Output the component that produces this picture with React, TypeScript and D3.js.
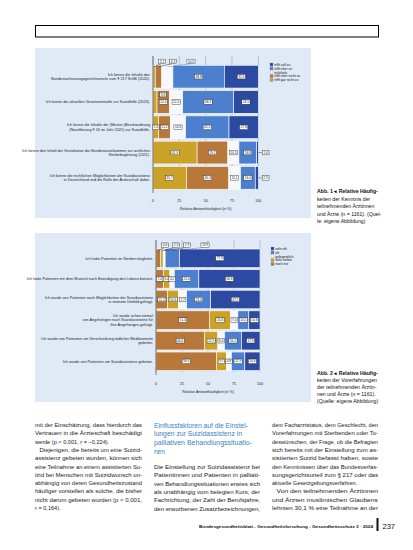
import React from "react";
import * as d3 from "d3";

// ---------- DATA ----------
const fig1Categories = [
  "Ich kenne die Inhalte des\nBundesverfassungsgerichtsurteils zum § 217 StGB (2020).",
  "Ich kenne die aktuellen Gesetzentwürfe zur Suizidhilfe (2023).",
  "Ich kenne die Inhalte der (Muster-)Berufsordnung\n(Novellierung § 16 im Jahr 2021) zur Suizidhilfe.",
  "Ich kenne den Inhalt der Grundsätze der Bundesärztekammer zur ärztlichen\nSterbebegleitung (2011).",
  "Ich kenne die rechtlichen Möglichkeiten der Suizidassistenz\nin Deutschland und die Rolle der Ärzteschaft dabei.",
];
const fig1Series = ["trifft voll zu", "trifft eher zu", "teils/teils", "trifft eher nicht zu", "trifft gar nicht zu"];
const fig1Voll = [32.3, 23.5, 27.8, 1.6, 2.9];
const fig1Eher = [48.8, 48.3, 41.3, 16.8, 14.0];
const fig1Teils = [10.5, 12.4, 14.3, 10.5, 11.1];
const fig1EherNicht = [6.3, 12.0, 11.2, 29.2, 40.3];
const fig1GarNicht = [2.1, 3.8, 5.4, 41.9, 31.7];

const fig2Categories = [
  "Ich habe Patienten im Sterben begleitet.",
  "Ich habe Patienten mit dem Wunsch nach Beendigung des Lebens betreut.",
  "Ich wurde von Patienten nach Möglichkeiten der Suizidassistenz\nin meinem Umfeld gefragt.",
  "Ich wurde schon einmal\nvon Angehörigen nach Suizidassistenz für\nihre Angehörigen gefragt.",
  "Ich wurde von Patienten um Verschreibung tödlicher Medikamente\ngebeten.",
  "Ich wurde von Patienten um Suizidassistenz gebeten.",
];
const fig2Series = ["sehr oft", "oft", "gelegentlich", "sehr selten", "noch nie"];
const fig2SehrOft = [77.3, 58.8, 47.5, 10.8, 17.9, 14.6];
const fig2Oft = [13.9, 23.6, 23.0, 10.5, 16.2, 12.9];
const fig2Gelegentlich = [1.9, 4.2, 7.7, 7.0, 6.4, 4.8];
const fig2Selten = [2.3, 6.4, 10.6, 20.3, 12.9, 9.7];
const fig2Nie = [4.6, 7.0, 11.2, 51.4, 46.6, 58.0];

const xTicks = [0, 25, 50, 75, 100];
const axisTitle = "Relative Antworthäufigkeit (in %)";

// ---------- STYLE ----------
const DARK = "#2d4aa3";
const MID = "#4c80cf";
const WHITE = "#f6f8fc";
const BROWN = "#b8783a";
const GOLD = "#c9a227";
const PANEL = "#dfeaf6";
const FONT = "'Liberation Sans', Arial, sans-serif";

const fig1Colors: Record<string, string> = {
  [fig1Series[0]]: DARK, [fig1Series[1]]: MID, [fig1Series[2]]: WHITE, [fig1Series[3]]: BROWN, [fig1Series[4]]: GOLD,
};
const fig2Colors: Record<string, string> = {
  [fig2Series[0]]: DARK, [fig2Series[1]]: MID, [fig2Series[2]]: WHITE, [fig2Series[3]]: GOLD, [fig2Series[4]]: BROWN,
};

const fig1Rows = fig1Categories.map((c, i) => ({
  cat: c,
  [fig1Series[4]]: fig1GarNicht[i],
  [fig1Series[3]]: fig1EherNicht[i],
  [fig1Series[2]]: fig1Teils[i],
  [fig1Series[1]]: fig1Eher[i],
  [fig1Series[0]]: fig1Voll[i],
}));
const fig2Rows = fig2Categories.map((c, i) => ({
  cat: c,
  [fig2Series[4]]: fig2Nie[i],
  [fig2Series[3]]: fig2Selten[i],
  [fig2Series[2]]: fig2Gelegentlich[i],
  [fig2Series[1]]: fig2Oft[i],
  [fig2Series[0]]: fig2SehrOft[i],
}));

const fmt = (v: number) => v.toFixed(1).replace(".", ",");

type ChartProps = {
  categories: string[];
  series: string[]; // legend order, top -> bottom
  rows: any[];
  colors: Record<string, string>;
  panel: { x: number; y: number; w: number; h: number };
  xRange: [number, number];
  yRange: [number, number];
  gridTop: number;
  gridBottom: number;
  tickY: number;
  titleY: number;
  legendX: number;
  legendY: number;
};

function LabelBox({ x, y, text }: { x: number; y: number; text: string }) {
  const w = text.length * 1.7 + 1.4;
  return (
    <g>
      <rect x={x - w / 2} y={y - 2.3} width={w} height={4.6} fill="#fff" stroke="#222" strokeWidth={0.4} />
      <text x={x} y={y + 1.15} fontSize={3.2} textAnchor="middle" fill="#111" fontFamily={FONT}>
        {text}
      </text>
    </g>
  );
}

function StackedChart(p: ChartProps) {
  const keys = [...p.series].reverse(); // left -> right
  const stacked = d3.stack<any>().keys(keys)(p.rows);
  const x = d3.scaleLinear().domain([0, 100]).range(p.xRange);
  const y = d3
    .scaleBand<string>()
    .domain(p.categories)
    .range(p.yRange)
    .paddingInner(0.1)
    .paddingOuter(0.05);
  const bw = y.bandwidth();

  const labels: React.ReactNode[] = [];
  p.categories.forEach((cat, i) => {
    const top = y(cat)!;
    const cy = top + bw / 2;
    let k = 0;
    const callouts: { lx: number; cx: number; v: number }[] = [];
    stacked.forEach((layer, j) => {
      const d = layer[i];
      const x0 = x(d[0]);
      const x1 = x(d[1]);
      const w = x1 - x0;
      const v = d[1] - d[0];
      const cx = (x0 + x1) / 2;
      if (i === 0 && v < 15) {
        callouts.push({ lx: p.xRange[0] + 9 + k * 11, cx, v });
        k++;
      } else if (w < 5 && j === keys.length - 1) {
        const lx = p.xRange[1] + 7.5;
        labels.push(
          <g key={`o${i}-${j}`}>
            <line x1={x1} y1={cy} x2={lx - 3.5} y2={cy} stroke="#222" strokeWidth={0.4} />
            <LabelBox x={lx} y={cy} text={fmt(v)} />
          </g>
        );
      } else if (w < 5 && j === 0) {
        labels.push(<LabelBox key={`f${i}-${j}`} x={cx + 8} y={top + 4} text={fmt(v)} />);
      } else {
        labels.push(<LabelBox key={`l${i}-${j}`} x={cx} y={cy} text={fmt(v)} />);
      }
    });
    callouts.forEach((c, n) => {
      const last = n === callouts.length - 1 && callouts.length > 1;
      const lx = c.lx + (last ? 7 : 0);
      const ly = top - 3.8;
      labels.push(
        <g key={`c${i}-${n}`}>
          <line
            x1={lx - 1}
            y1={ly + 2.3}
            x2={c.cx}
            y2={top + 1.5}
            stroke="#1a2b55"
            strokeWidth={0.5}
            strokeDasharray={last ? "0.8,0.6" : undefined}
          />
          <LabelBox x={lx} y={ly} text={fmt(c.v)} />
        </g>
      );
    });
  });

  return (
    <g>
      <rect x={p.panel.x} y={p.panel.y} width={p.panel.w} height={p.panel.h} fill={PANEL} />
      {xTicks.map((t) => (
        <line key={t} x1={x(t)} x2={x(t)} y1={p.gridTop} y2={p.gridBottom} stroke="#8b95a5" strokeWidth={0.5} />
      ))}
      {stacked.map((layer) => (
        <g key={layer.key}>
          {layer.map((d, i) => (
            <rect
              key={i}
              x={x(d[0])}
              y={y(p.categories[i])!}
              width={x(d[1]) - x(d[0])}
              height={bw}
              fill={p.colors[layer.key]}
              stroke="#fff"
              strokeWidth={0.6}
            />
          ))}
        </g>
      ))}
      <line x1={x(0)} x2={x(0)} y1={p.gridTop} y2={p.gridBottom + 3} stroke="#333" strokeWidth={0.6} />
      {labels}
      {p.categories.map((cat) => {
        const lines = cat.split("\n");
        const cy = y(cat)! + bw / 2;
        const lh = 4.6;
        const start = cy - ((lines.length - 1) * lh) / 2 + 1.3;
        return (
          <text key={cat} fontSize={3.8} fill="#222" fontFamily={FONT} textAnchor="end">
            {lines.map((l, n) => (
              <tspan key={n} x={x(0) - 3} y={start + n * lh}>
                {l}
              </tspan>
            ))}
          </text>
        );
      })}
      {xTicks.map((t) => (
        <text key={t} x={x(t)} y={p.tickY} fontSize={3.6} textAnchor="middle" fill="#222" fontFamily={FONT}>
          {t}
        </text>
      ))}
      <text
        x={(p.xRange[0] + p.xRange[1]) / 2}
        y={p.titleY}
        fontSize={3.6}
        textAnchor="middle"
        fill="#222"
        fontFamily={FONT}
      >
        {axisTitle}
      </text>
      {p.series.map((s, n) => (
        <g key={s}>
          <rect
            x={p.legendX}
            y={p.legendY + n * 3.9}
            width={3}
            height={3}
            fill={p.colors[s]}
            stroke="#667"
            strokeWidth={0.2}
          />
          <text x={p.legendX + 4.3} y={p.legendY + n * 3.9 + 2.7} fontSize={3.4} fill="#111" fontFamily={FONT}>
            {s}
          </text>
        </g>
      ))}
    </g>
  );
}

// ---------- PAGE TEXT ----------
const cap1 = ["Abb. 1 ◂ Relative Häufig-", "keiten der Kenntnis der", "teilnehmenden Ärztinnen", "und Ärzte (n = 1161). (Quel-", "le: eigene Abbildung)"];
const cap2 = ["Abb. 2 ◂ Relative Häufig-", "keiten der Vorerfahrungen", "der teilnehmenden Ärztin-", "nen und Ärzte (n = 1161).", "(Quelle: eigene Abbildung)"];

const col1: [string, boolean, boolean][] = [
  ["mit der Einschätzung, dass hierdurch das", true, false],
  ["Vertrauen in die Ärzteschaft beschädigt", true, false],
  ["werde (p < 0,001, r = −0,224).", false, false],
  ["Diejenigen, die bereits um eine Suizid-", true, true],
  ["assistenz gebeten wurden, können sich", true, false],
  ["eine Teilnahme an einem assistierten Su-", true, false],
  ["izid bei Menschen mit Suizidwunsch un-", true, false],
  ["abhängig von deren Gesundheitszustand", true, false],
  ["häufiger vorstellen als solche, die bisher", true, false],
  ["nicht darum gebeten wurden (p < 0,001,", true, false],
  ["r = 0,164).", false, false],
];
const col2Head = ["Einflussfaktoren auf die Einstel-", "lungen zur Suizidassistenz in", "palliativen Behandlungssituatio-", "nen"];
const col2HeadW = [94, 88, 98, 0];
const col2: string[] = [
  "Die Einstellung zur Suizidassistenz bei",
  "Patientinnen und Patienten in palliati-",
  "ven Behandlungssituationen erwies sich",
  "als unabhängig vom belegten Kurs, der",
  "Fachrichtung, der Zahl der Berufsjahre,",
  "den erworbenen Zusatzbezeichnungen,",
];
const col3: [string, boolean, boolean][] = [
  ["dem Facharztstatus, dem Geschlecht, den", true, false],
  ["Vorerfahrungen mit Sterbenden oder To-", true, false],
  ["deswünschen, der Frage, ob die Befragten", true, false],
  ["sich bereits mit der Einstellung zum as-", true, false],
  ["sistierten Suizid befasst haben, sowie", true, false],
  ["den Kenntnissen über das Bundesverfas-", true, false],
  ["sungsgerichtsurteil zum § 217 oder das", true, false],
  ["aktuelle Gesetzgebungsverfahren.", false, false],
  ["Von den teilnehmenden Ärztinnen", true, true],
  ["und Ärzten muslimischen Glaubens", true, false],
  ["lehnten 30,1 % eine Teilnahme an der", true, false],
];

function Column({ x, width, lines, y0 }: { x: number; width: number; lines: [string, boolean, boolean][]; y0: number }) {
  return (
    <g>
      {lines.map(([t, full, indent], i) => {
        const ix = indent ? 4.5 : 0;
        return (
          <text
            key={i}
            x={x + ix}
            y={y0 + i * 8.3}
            fontSize={5.6}
            fill="#1a1a1a"
            fontFamily={FONT}
            textLength={full ? width - ix : undefined}
            lengthAdjust="spacingAndGlyphs"
          >
            {t}
          </text>
        );
      })}
    </g>
  );
}

export default function App() {
  return (
    <div style={{ position: "absolute", left: 0, top: 0 }}>
      <svg width={413} height={550} viewBox="0 0 413 550" style={{ display: "block" }}>
        <rect x={0} y={0} width={413} height={550} fill="#fff" />
        <rect x={35.5} y={25.5} width={343} height={11.5} fill="none" stroke="#000" strokeWidth={1} />

        <StackedChart
          categories={fig1Categories}
          series={fig1Series}
          rows={fig1Rows}
          colors={fig1Colors}
          panel={{ x: 35, y: 48, w: 276, h: 170 }}
          xRange={[153, 258.3]}
          yRange={[64, 190.5]}
          gridTop={56}
          gridBottom={190}
          tickY={201.5}
          titleY={209.5}
          legendX={270}
          legendY={63}
        />
        <StackedChart
          categories={fig2Categories}
          series={fig2Series}
          rows={fig2Rows}
          colors={fig2Colors}
          panel={{ x: 35, y: 233, w: 276, h: 169 }}
          xRange={[156, 260]}
          yRange={[248, 371.6]}
          gridTop={240}
          gridBottom={372}
          tickY={384.5}
          titleY={393}
          legendX={271}
          legendY={247}
        />

        {cap1.map((l, i) => (
          <text key={i} x={317} y={193 + i * 7.6} fontSize={5.2} fill="#111" fontFamily={FONT} fontWeight={i === 0 ? 700 : 400}>
            {l}
          </text>
        ))}
        {cap2.map((l, i) => (
          <text key={i} x={317} y={375 + i * 7.1} fontSize={5.2} fill="#111" fontFamily={FONT} fontWeight={i === 0 ? 700 : 400}>
            {l}
          </text>
        ))}

        <Column x={35} width={107} lines={col1} y0={427} />
        {col2Head.map((l, i) => (
          <text
            key={i}
            x={154}
            y={427.5 + i * 8.7}
            fontSize={6.5}
            fill="#3583c6"
            fontFamily={FONT}
            textLength={col2HeadW[i] || undefined}
            lengthAdjust="spacingAndGlyphs"
          >
            {l}
          </text>
        ))}
        {col2.map((l, i) => (
          <text
            key={i}
            x={154}
            y={469 + i * 8.3}
            fontSize={5.6}
            fill="#1a1a1a"
            fontFamily={FONT}
            textLength={106}
            lengthAdjust="spacingAndGlyphs"
          >
            {l}
          </text>
        ))}
        <Column x={272} width={106} lines={col3} y0={427} />

        <text x={199} y={527.5} fontSize={4.2} fontWeight={700} fill="#111" fontFamily={FONT} textLength={174} lengthAdjust="spacingAndGlyphs">
          Bundesgesundheitsblatt - Gesundheitsforschung - Gesundheitsschutz 3 · 2024
        </text>
        <rect x={376.5} y={518} width={2} height={13} fill="#111" />
        <text x={382.5} y={529} fontSize={7.5} fill="#111" fontFamily={FONT}>
          237
        </text>
      </svg>
    </div>
  );
}
